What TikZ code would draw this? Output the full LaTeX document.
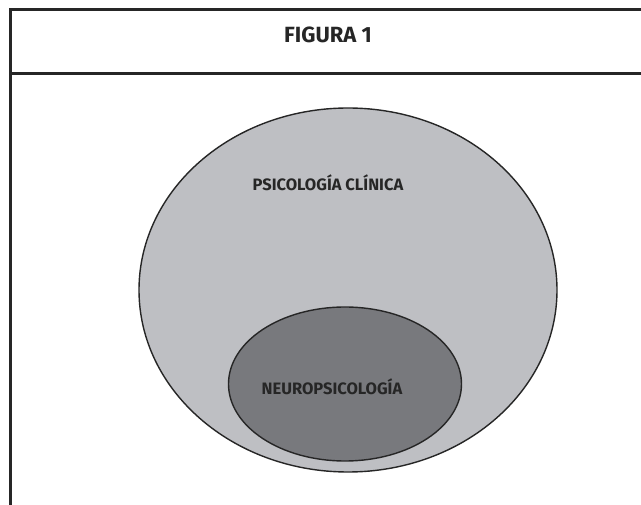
\documentclass[tikz,border=0pt]{standalone}
\usepackage{fontspec}
\setmainfont{Fira Sans}
\usetikzlibrary{shapes.geometric}
\begin{document}
\begin{tikzpicture}[x=1pt,y=-1pt,
  frame/.style={draw=black!85, line width=3pt},
  circ/.style={draw=black!85, line width=1.4pt, ellipse, inner sep=0pt},
  lbl/.style={text=black!85, inner sep=0pt, anchor=base}]
\useasboundingbox (0,0) rectangle (641,505);
\fill[white] (0,0) rectangle (641,505);
\definecolor{outerc}{RGB}{190,191,195}
\definecolor{innerc}{RGB}{120,121,125}
\coordinate (tl) at (10,10);
\coordinate (tr) at (641,10);
\coordinate (hl) at (10,73.5);
\coordinate (hr) at (641,73.5);
\coordinate (bl) at (10,505);
\draw[frame] (tr) -- (tl) -- (bl);
\draw[frame] (hl) -- (hr);
\node[lbl, font=\bfseries\fontsize{22}{22}\selectfont] (title) at (328,43) {FIGURA 1};
\node[circ, fill=outerc, minimum width=418pt, minimum height=364pt] (outer) at (348,290) {};
\node[circ, fill=innerc, minimum width=233pt, minimum height=154pt] (inner) at (345,384) {};
\node[lbl, font=\bfseries\fontsize{16.5}{16.5}\selectfont] (pc) at (328,191) {PSICOLOGÍA CLÍNICA};
\node[lbl, font=\bfseries\fontsize{16.5}{16.5}\selectfont] (np) at (332,395) {NEUROPSICOLOGÍA};
\end{tikzpicture}
\end{document}
